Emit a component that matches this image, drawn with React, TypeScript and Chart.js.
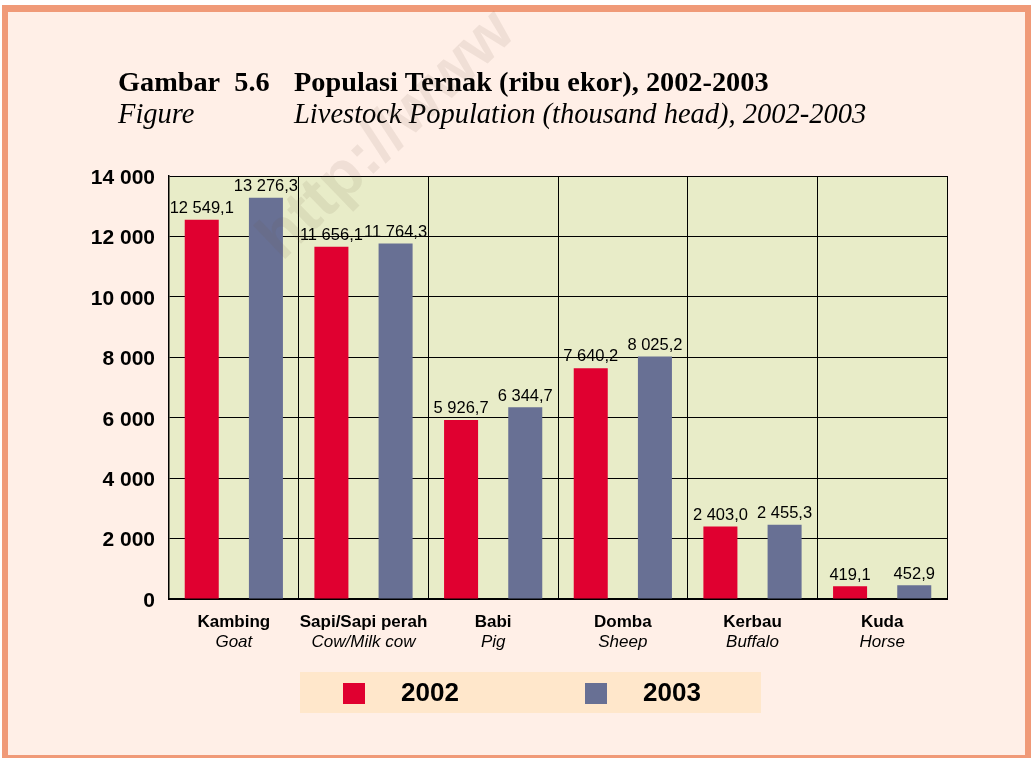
import React, { useEffect, useRef } from "react";
import { Chart, registerables } from "chart.js";

Chart.register(...registerables);

const categoriesId = ["Kambing", "Sapi/Sapi perah", "Babi", "Domba", "Kerbau", "Kuda"];
const categoriesEn = ["Goat", "Cow/Milk cow", "Pig", "Sheep", "Buffalo", "Horse"];
const values2002 = [12549.1, 11656.1, 5926.7, 7640.2, 2403.0, 419.1];
const values2003 = [13276.3, 11764.3, 6344.7, 8025.2, 2455.3, 452.9];
const seriesLabels = ["2002", "2003"];
const yTicks = [0, 2000, 4000, 6000, 8000, 10000, 12000, 14000];

const RED = "#e00030";
const BLUE = "#687094";

function fmtThousands(v: number): string {
  const s = Math.round(v).toString();
  return s.replace(/\B(?=(\d{3})+(?!\d))/g, " ");
}
function fmtValue(v: number): string {
  const [i, d] = v.toFixed(1).split(".");
  return i.replace(/\B(?=(\d{3})+(?!\d))/g, " ") + "," + d;
}

const decorPlugin = {
  id: "decor",
  beforeDraw(chart: any) {
    const { ctx, width, height, chartArea } = chart;
    ctx.save();
    ctx.fillStyle = "#ffffff";
    ctx.fillRect(0, 0, width, height);
    ctx.fillStyle = "#f09a78";
    ctx.fillRect(2, 5, width - 2, height - 5);
    ctx.fillStyle = "#ffefe7";
    ctx.fillRect(8, 12, width - 14, height - 15);
    // plot bg
    ctx.fillStyle = "#e8ecc8";
    ctx.fillRect(chartArea.left, chartArea.top, chartArea.right - chartArea.left, chartArea.bottom - chartArea.top);
    // titles
    ctx.fillStyle = "#000";
    ctx.textBaseline = "alphabetic";
    ctx.textAlign = "left";
    ctx.font = "bold 28.3px 'Liberation Serif', 'Times New Roman', serif";
    ctx.fillText("Gambar  5.6", 118, 91);
    ctx.fillText("Populasi Ternak (ribu ekor), 2002-2003", 294, 91);
    ctx.font = "italic 28.5px 'Liberation Serif', 'Times New Roman', serif";
    ctx.fillText("Figure", 118, 123);
    ctx.fillText("Livestock Population (thousand head), 2002-2003", 294, 123);
    ctx.restore();
  },
  afterDraw(chart: any) {
    const { ctx } = chart;
    const x = chart.scales.x;
    ctx.save();
    // two-line category labels
    ctx.fillStyle = "#000";
    ctx.textAlign = "center";
    ctx.textBaseline = "alphabetic";
    categoriesId.forEach((c, i) => {
      const px = x.getPixelForValue(i);
      ctx.font = "bold 17px 'Liberation Sans', Arial, sans-serif";
      ctx.fillText(c, px, 627);
      ctx.font = "italic 17px 'Liberation Sans', Arial, sans-serif";
      ctx.fillText(categoriesEn[i], px, 647);
    });
    // data value labels
    ctx.font = "16.5px 'Liberation Sans', Arial, sans-serif";
    ctx.textBaseline = "bottom";
    chart.data.datasets.forEach((ds: any, di: number) => {
      const meta = chart.getDatasetMeta(di);
      meta.data.forEach((bar: any, i: number) => {
        ctx.fillText(fmtValue(ds.data[i]), bar.x, bar.y - 3);
      });
    });
    // legend
    ctx.fillStyle = "#ffe7cb";
    ctx.fillRect(300, 672, 461, 41);
    const items = [
      { color: RED, label: seriesLabels[0], sx: 343, tx: 430 },
      { color: BLUE, label: seriesLabels[1], sx: 585, tx: 672 },
    ];
    ctx.font = "bold 26px 'Liberation Sans', Arial, sans-serif";
    ctx.textBaseline = "middle";
    ctx.textAlign = "center";
    items.forEach((it) => {
      ctx.fillStyle = it.color;
      ctx.fillRect(it.sx, 683, 22, 21);
      ctx.fillStyle = "#000";
      ctx.fillText(it.label, it.tx, 694);
    });
    // watermark
    ctx.translate(282, 262);
    ctx.rotate(-44 * Math.PI / 180);
    ctx.font = "bold 64px 'Liberation Sans', Arial, sans-serif";
    ctx.fillStyle = "rgba(110, 90, 70, 0.10)";
    ctx.textAlign = "left";
    ctx.textBaseline = "alphabetic";
    ctx.fillText("http://www", 0, 0);
    ctx.restore();
  },
};

export default function App() {
  const ref = useRef<HTMLCanvasElement | null>(null);
  useEffect(() => {
    document.body.style.margin = "0";
    if (!ref.current) return;
    const chart = new Chart(ref.current, {
      type: "bar",
      data: {
        labels: categoriesId,
        datasets: [
          { label: seriesLabels[0], data: values2002, backgroundColor: RED, borderWidth: 0 },
          { label: seriesLabels[1], data: values2003, backgroundColor: BLUE, borderWidth: 0 },
        ],
      },
      options: {
        responsive: false,
        animation: false,
        events: [],
        layout: { padding: { left: 0, right: 84, top: 176, bottom: 159 } },
        plugins: { legend: { display: false }, tooltip: { enabled: false }, title: { display: false } },
        datasets: { bar: { categoryPercentage: 0.99, barPercentage: 0.53 } },
        scales: {
          x: {
            offset: true,
            grid: { offset: true, color: "#000", lineWidth: 1, drawTicks: false },
            border: { color: "#000", width: 2 },
            ticks: { display: false },
            afterFit: (s: any) => { s.height = 0; },
          },
          y: {
            min: 0,
            max: 14000,
            afterBuildTicks: (s: any) => { s.ticks = yTicks.map((v) => ({ value: v })); },
            grid: { color: "#000", lineWidth: 1, drawTicks: false },
            border: { color: "#000", width: 1.5 },
            ticks: {
              padding: 14,
              labelOffset: 2,
              color: "#000",
              font: { family: "'Liberation Sans', Arial, sans-serif", size: 21, weight: "bold" },
              callback: (v: any) => fmtThousands(Number(v)),
            },
            afterFit: (s: any) => { s.width = 169; },
          },
        },
      },
      plugins: [decorPlugin],
    });
    return () => chart.destroy();
  }, []);
  return (
    <div style={{ position: "absolute", left: 0, top: 0, width: 1031, height: 758 }}>
      <canvas ref={ref} width={1031} height={758} style={{ display: "block", width: 1031, height: 758 }} />
    </div>
  );
}
